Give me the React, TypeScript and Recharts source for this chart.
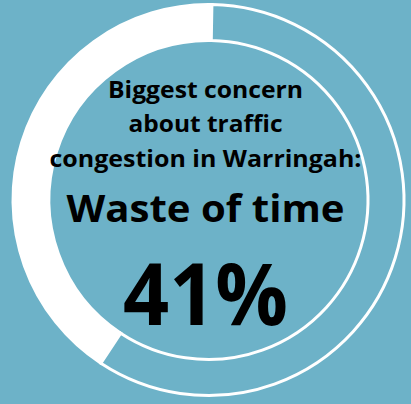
import React from 'react';
import { PieChart, Pie, Cell, Label } from 'recharts';

const categories = ['Waste of time', 'Other concerns'];
const shares = [41, 59];
const headline = ['Biggest concern', 'about traffic', 'congestion in Warringah:'];
const answer = 'Waste of time';
const answerValue = '41%';

const BG = '#6db2c8';
const sliceColors = ['#ffffff', BG];

const data = categories.map((name, i) => ({ name, value: shares[i] }));

const FONT = '"Open Sans", Lato, sans-serif';

function CenterText(props: any) {
  const vb = props.viewBox || {};
  const cx = (vb.cx ?? 208.5) - 3;
  const cy = vb.cy ?? 200;
  const lines = [
    { text: headline[0], dy: -102, size: 23.5, len: 195 },
    { text: headline[1], dy: -68, size: 23.5, len: 154 },
    { text: headline[2], dy: -33, size: 23.5, len: 312 },
    { text: answer, dy: 22, size: 37.5, len: 278 },
    { text: answerValue, dy: 125, size: 86, len: 165 },
  ];
  return (
    <g>
      {lines.map((l, i) => (
        <text
          key={i}
          x={cx}
          y={cy + l.dy}
          textAnchor="middle"
          fontFamily={FONT}
          fontWeight={700}
          fontSize={l.size}
          fill="#000"
          textLength={l.len}
          lengthAdjust="spacingAndGlyphs"
        >
          {l.text}
        </text>
      ))}
    </g>
  );
}

export default function App() {
  return (
    <div style={{ position: 'fixed', left: 0, top: 0, width: 411, height: 404, background: BG, overflow: 'hidden' }}>
      <PieChart width={411} height={404} margin={{ top: 0, right: 0, bottom: 0, left: 0 }}>
        <Pie
          data={data}
          dataKey="value"
          nameKey="name"
          cx={208.5}
          cy={200}
          innerRadius={159.5}
          outerRadius={195.5}
          startAngle={89}
          endAngle={449}
          stroke="#ffffff"
          strokeWidth={3}
          isAnimationActive={false}
        >
          {data.map((d, i) => (
            <Cell key={d.name} fill={sliceColors[i]} />
          ))}
          <Label position="center" content={<CenterText />} />
        </Pie>
      </PieChart>
    </div>
  );
}
